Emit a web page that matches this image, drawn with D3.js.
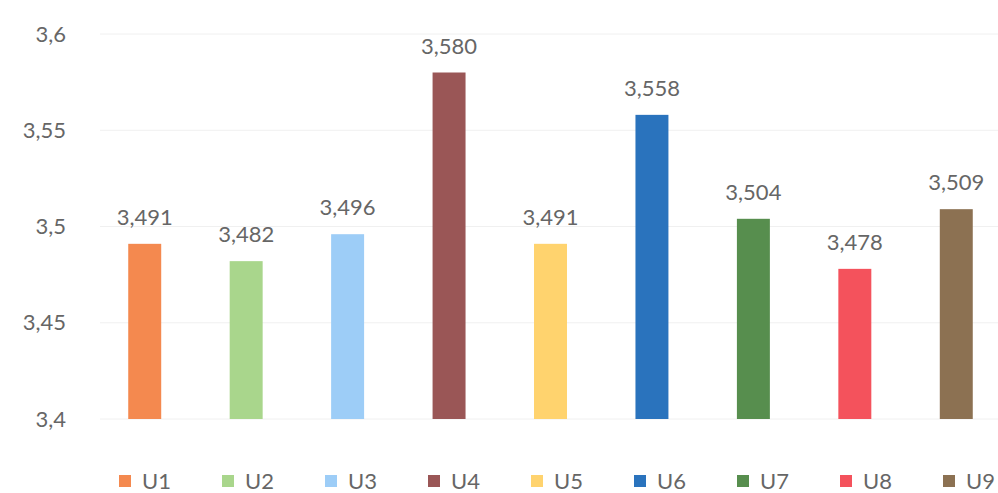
<!DOCTYPE html>
<html><head><meta charset="utf-8">
<script src="https://cdn.jsdelivr.net/npm/d3@7"></script>
<style>body{margin:0;background:#fff}svg{display:block}text{font-family:Lato,"Open Sans",sans-serif}</style>
</head><body><svg id="c" width="998" height="493"></svg>
<script>
const categories = ["U1","U2","U3","U4","U5","U6","U7","U8","U9"];
const values = [3.491,3.482,3.496,3.580,3.491,3.558,3.504,3.478,3.509];
const colors = ["#F4894F","#A9D68C","#9DCDF7","#9A5656","#FFD36E","#2A73BD","#578E4E","#F4525C","#8C7152"];
const yTicks = [3.4,3.45,3.5,3.55,3.6];

const svg = d3.select("#c");
const x = d3.scaleBand().domain(categories).range([94,1007]).paddingInner(0.675).paddingOuter(0.3375);
const y = d3.scaleLinear().domain([3.4,3.6]).range([419,34]);
const fmtTick = v => String(v).replace(".", ",");
const fmtVal = v => d3.format(".3f")(v).replace(".", ",");

// gridlines
svg.append("g").selectAll("line").data(yTicks).join("line")
  .attr("x1",100).attr("x2",998).attr("y1",d=>y(d)).attr("y2",d=>y(d))
  .attr("stroke","#f0f0f0").attr("stroke-width",1);

// y axis
const ya = svg.append("g").attr("transform","translate(66,0)")
  .call(d3.axisLeft(y).tickValues(yTicks).tickFormat(fmtTick).tickSize(0).tickPadding(0));
ya.select(".domain").remove();
ya.selectAll("text").attr("fill","#666").style("font-size","22px").style("font-family","Lato, sans-serif");

// bars
svg.append("g").selectAll("rect").data(values).join("rect")
  .attr("x",(d,i)=>x(categories[i])).attr("width",x.bandwidth())
  .attr("y",d=>y(d)).attr("height",d=>y(3.4)-y(d))
  .attr("fill",(d,i)=>colors[i]);

// labels
svg.append("g").selectAll("text").data(values).join("text")
  .attr("x",(d,i)=>x(categories[i])+x.bandwidth()/2).attr("y",d=>y(d)-19)
  .attr("text-anchor","middle").attr("fill","#666").style("font-size","22px")
  .text(fmtVal);

// legend
const lg = svg.append("g").selectAll("g").data(categories).join("g")
  .attr("transform",(d,i)=>`translate(${119+i*103},481)`);
lg.append("rect").attr("x",0).attr("y",-6).attr("width",12).attr("height",12).attr("fill",(d,i)=>colors[i]);
lg.append("text").attr("x",23).attr("y",0).attr("dy","0.36em").attr("fill","#666").style("font-size","22px").text(d=>d);
</script></body></html>
